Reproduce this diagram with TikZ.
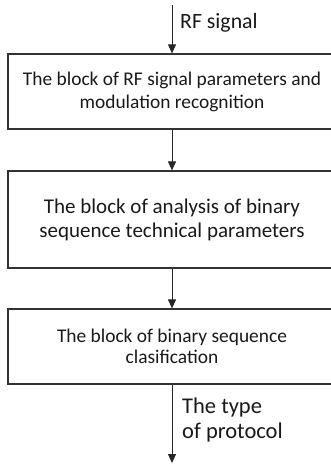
\documentclass[tikz,border=0pt]{standalone}
\usepackage{fontspec}
\setmainfont{Carlito}
\usetikzlibrary{arrows.meta}
\begin{document}
\begin{tikzpicture}[x=1pt,y=1pt,
  blockbox/.style={draw=black!80, line width=1.2pt, minimum width=328pt, align=center, inner sep=0pt, text=black!90},
  flow/.style={draw=black!85, line width=0.9pt, -{Triangle[width=8pt,length=9pt]}},
  sidelabel/.style={anchor=west, align=left, inner sep=0pt, text=black!90}]
  \useasboundingbox (0,0) rectangle (331,-466);
  % processing blocks
  \node[blockbox, minimum height=75pt, font=\fontsize{19.4}{23}\selectfont] (b1) at (172,-91.5)
    {The block of RF signal parameters and\\modulation recognition};
  \node[blockbox, minimum height=97pt, font=\fontsize{21}{24}\selectfont] (b2) at (172,-219.5)
    {The block of analysis of binary\\sequence technical parameters};
  \node[blockbox, minimum height=75pt, font=\fontsize{19.4}{21}\selectfont] (b3) at (172,-346.5)
    {The block of binary sequence\\clasification};
  % input and output ends
  \coordinate (in) at (172,-5);
  \coordinate (out) at (172,-463);
  % connectors
  \draw[flow] (in) -- (b1.north);
  \draw[flow] (b1.south) -- (b2.north);
  \draw[flow] (b2.south) -- (b3.north);
  \draw[flow] (b3.south) -- (out);
  % labels
  \node[sidelabel, font=\fontsize{21.8}{24}\selectfont] (lin) at (180,-23) {RF signal};
  \node[sidelabel, font=\fontsize{22.5}{25}\selectfont] (lout) at (182,-420) {The type\\of protocol};
\end{tikzpicture}
\end{document}
